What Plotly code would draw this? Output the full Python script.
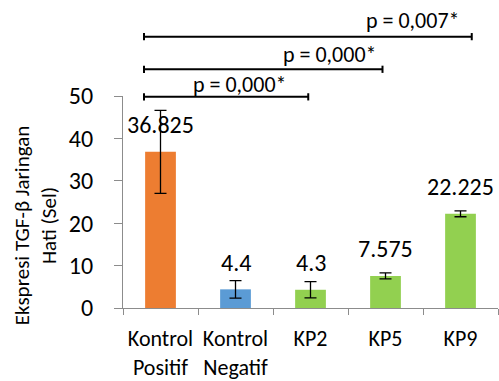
import plotly.graph_objects as go

categories = ["Kontrol<br>Positif", "Kontrol<br>Negatif", "KP2", "KP5", "KP9"]
values = [36.825, 4.4, 4.3, 7.575, 22.225]
errors = [9.8, 2.05, 1.9, 0.7, 0.7]
labels = ["36.825", "4.4", "4.3", "7.575", "22.225"]
colors = ["#ED7D31", "#5B9BD5", "#92D050", "#92D050", "#92D050"]
y_title = "Ekspresi TGF-β Jaringan<br>Hati (Sel)"

# significance comparisons
sig_left = [-0.22, -0.22, -0.22]
sig_right = [1.97, 2.96, 4.15]
sig_y = [49.8, 56.3, 64.0]
sig_text = ["p = 0,000*", "p = 0,000*", "p = 0,007*"]
sig_text_x = [1.06, 2.26, 3.37]
sig_text_y = [52.6, 59.7, 67.8]

FONT = "Carlito, Lato, sans-serif"
YMAX = 50

fig = go.Figure()
fig.add_trace(go.Bar(
    x=categories, y=values,
    marker=dict(color=colors, line=dict(width=0)),
    width=0.41,
    error_y=dict(type="data", array=errors, visible=True,
                 color="black", thickness=1.3, width=6),
    hoverinfo="skip",
))

annotations = []
for c, v, t in zip(categories, values, labels):
    annotations.append(dict(x=c, y=v, xref="x", yref="y", text=t,
                            showarrow=False, yanchor="middle", yshift=27,
                            font=dict(size=24, color="black", family=FONT)))

shapes = []
for l, r, yv, t, tx, ty in zip(sig_left, sig_right, sig_y, sig_text, sig_text_x, sig_text_y):
    yp = yv / YMAX
    shapes.append(dict(type="line", xref="x", yref="paper", x0=l, x1=r, y0=yp, y1=yp,
                       line=dict(color="black", width=2)))
    for xe in (l, r):
        shapes.append(dict(type="line", xref="x", yref="paper", x0=xe, x1=xe,
                           y0=yp - 0.017, y1=yp + 0.017,
                           line=dict(color="black", width=2)))
    annotations.append(dict(x=tx, y=ty / YMAX, xref="x", yref="paper", text=t,
                            showarrow=False, yanchor="middle", xanchor="center",
                            font=dict(size=22, color="black", family=FONT)))

# y-axis title (as rotated text so its vertical position matches)
annotations.append(dict(x=-0.235, y=0.39, xref="paper", yref="paper", text=y_title,
                        showarrow=False, textangle=-90, xanchor="center", yanchor="middle",
                        font=dict(size=21, color="black", family=FONT)))

fig.update_layout(
    width=499, height=381,
    margin=dict(l=123, r=1, t=96, b=73),
    paper_bgcolor="white", plot_bgcolor="white",
    showlegend=False,
    font=dict(family=FONT, color="black"),
    annotations=annotations,
    shapes=shapes,
    xaxis=dict(
        type="category",
        range=[-0.5, 4.5],
        automargin=False,
        showline=True, linecolor="#8c8c8c", linewidth=1,
        ticks="outside", ticklen=6, tickcolor="#8c8c8c", tickson="boundaries",
        tickfont=dict(size=22, color="black", family=FONT),
        showgrid=False, zeroline=False,
        ticklabelstandoff=11,
    ),
    yaxis=dict(
        range=[0, YMAX],
        automargin=False,
        tickvals=[0, 10, 20, 30, 40, 50],
        showline=True, linecolor="#8c8c8c", linewidth=1,
        ticks="outside", ticklen=8, tickcolor="#8c8c8c",
        tickfont=dict(size=24, color="black", family=FONT),
        showgrid=False, zeroline=False,
        ticklabelstandoff=16,
    ),
)

fig.write_html("out.html", config={"displayModeBar": False},
               post_script="document.body.style.margin='0';document.body.style.padding='0';document.body.style.overflow='hidden';")
